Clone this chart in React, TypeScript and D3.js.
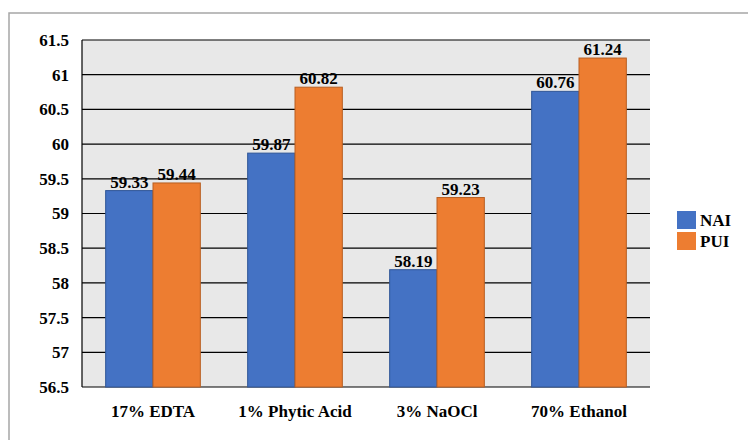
import React from "react";
import * as d3 from "d3";

const categories = ["17% EDTA", "1% Phytic Acid", "3% NaOCl", "70% Ethanol"];
const seriesNames = ["NAI", "PUI"];
const naiValues = [59.33, 59.87, 58.19, 60.76];
const puiValues = [59.44, 60.82, 59.23, 61.24];
const yTicks = [56.5, 57, 57.5, 58, 58.5, 59, 59.5, 60, 60.5, 61, 61.5];

const colors = ["#4472C4", "#ED7D31"];
const strokes = ["#2F5597", "#B85F22"];

export default function App() {
  const W = 748, H = 440;
  const left = 82, right = 650, top = 40, bottom = 387;
  const y = d3.scaleLinear().domain([56.5, 61.5]).range([bottom, top]);
  const x0 = d3.scaleBand().domain(categories).range([left, right]).paddingInner(0).paddingOuter(0);
  const x1 = d3.scaleBand().domain(seriesNames).range([0, x0.bandwidth()]).paddingInner(0).paddingOuter(0.5);
  const series = [naiValues, puiValues];
  const ts: React.CSSProperties = { fontFamily: '"Liberation Serif"', fontWeight: 700, fontSize: "17px" };
  return (
    <svg width={W} height={H} style={{ position: "absolute", left: 0, top: 0 }}>
      <rect x={0} y={0} width={W} height={H} fill="#fff" />
      <rect x={9} y={13} width={W} height={H} fill="none" stroke="#a6a6a6" strokeWidth={1.5} />
      <rect x={left} y={top} width={right - left} height={bottom - top} fill="#E8E8E8" />
      {yTicks.map((t) => (
        <line key={t} x1={left} x2={right} y1={y(t)} y2={y(t)} stroke="#000" strokeWidth={1.2} />
      ))}
      <line x1={left} x2={left} y1={top} y2={bottom} stroke="#000" strokeWidth={1.2} />
      {yTicks.map((t) => (
        <text key={t} x={69} y={y(t)} dy="0.35em" textAnchor="end" style={ts}>
          {t}
        </text>
      ))}
      {categories.map((c, i) =>
        seriesNames.map((s, j) => {
          const v = series[j][i];
          const bx = (x0(c) || 0) + (x1(s) || 0);
          const bw = x1.bandwidth();
          return (
            <g key={c + s}>
              <rect x={bx} y={y(v)} width={bw} height={bottom - y(v)} fill={colors[j]} stroke={strokes[j]} strokeWidth={1} />
              <text x={bx + bw / 2} y={y(v) - 3} textAnchor="middle" style={ts}>
                {v.toFixed(2)}
              </text>
            </g>
          );
        })
      )}
      {categories.map((c) => (
        <text key={c} x={(x0(c) || 0) + x0.bandwidth() / 2} y={417} textAnchor="middle" style={ts}>
          {c}
        </text>
      ))}
      {seriesNames.map((s, j) => (
        <g key={s}>
          <rect x={677} y={211 + j * 21} width={19} height={18} fill={colors[j]} />
          <text x={700} y={211 + j * 21 + 9} dy="0.35em" style={ts}>
            {s}
          </text>
        </g>
      ))}
    </svg>
  );
}
